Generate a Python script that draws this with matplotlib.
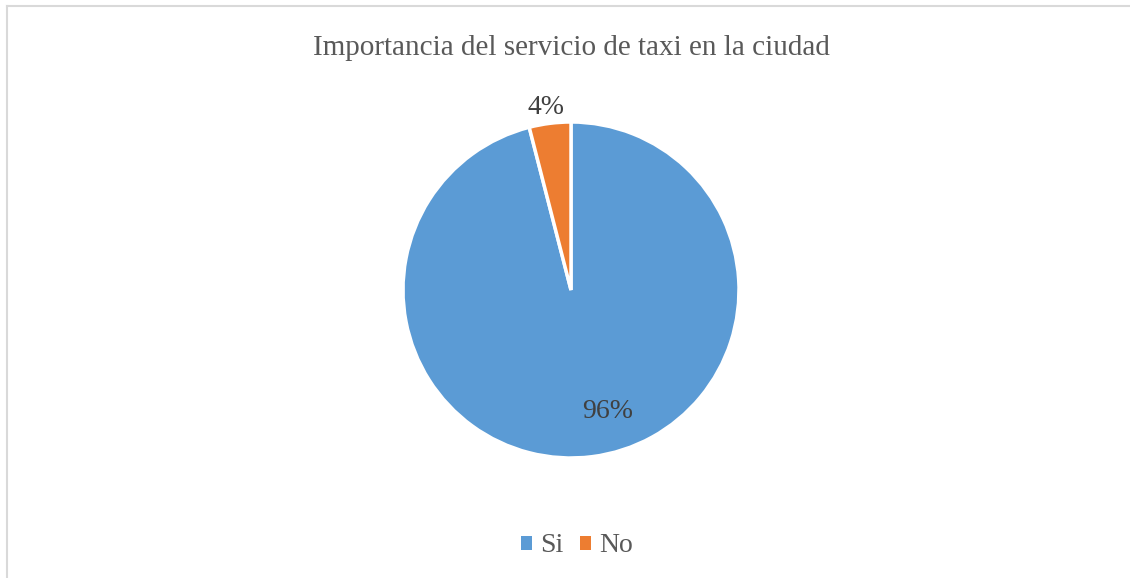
import matplotlib
matplotlib.use("Agg")
import matplotlib.pyplot as plt
from matplotlib.lines import Line2D
from matplotlib.patches import Patch

categories = ["Si", "No"]
values = [96, 4]
colors = ["#5B9BD5", "#ED7D31"]
title = "Importancia del servicio de taxi en la ciudad"

W, H = 1130, 578
fig = plt.figure(figsize=(W / 100, H / 100), dpi=100)
plt.rcParams['font.family'] = ['Liberation Serif', 'DejaVu Serif']

# border (top and left visible)
fig.add_artist(Line2D([6.5 / W, 6.5 / W], [0, 1 - 5.5 / H], transform=fig.transFigure, color="#D9D9D9", lw=1.5))
fig.add_artist(Line2D([6.5 / W, 1.01], [1 - 5.5 / H, 1 - 5.5 / H], transform=fig.transFigure, color="#D9D9D9", lw=1.5))

cx, cy, r = 571, 290, 168
ax = fig.add_axes([(cx - r) / W, 1 - (cy + r) / H, 2 * r / W, 2 * r / H])
wedges, texts = ax.pie(values, colors=colors, startangle=90, counterclock=False,
                       wedgeprops=dict(edgecolor="white", linewidth=2.5), radius=1.0)
ax.set_xlim(-1, 1)
ax.set_ylim(-1, 1)
ax.set_aspect("equal")
ax.axis("off")

# labels
fig.text(608 / W, 1 - 411 / H, f"{values[0]}%", ha="center", va="center", fontsize=20, color="#404040")
fig.text(546 / W, 1 - 107 / H, f"{values[1]}%", ha="center", va="center", fontsize=20, color="#404040")

fig.text(571 / W, 1 - 48 / H, title, ha="center", va="center", fontsize=21, color="#595959")

handles = [Patch(facecolor=c, edgecolor="none") for c in colors]
fig.legend(handles, categories, loc="center", bbox_to_anchor=(577 / W, 1 - 546 / H), ncol=2,
           frameon=False, fontsize=20, handlelength=0.4, handleheight=0.4, handletextpad=0.3,
           columnspacing=0.6, labelcolor="#595959", borderpad=0)

fig.savefig("out.png", dpi=100)
